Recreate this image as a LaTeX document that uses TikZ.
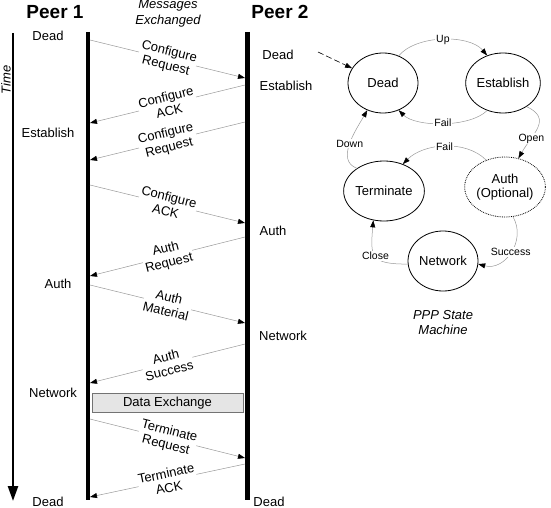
\documentclass[tikz,border=0pt]{standalone}
\usepackage{fontspec}
\setmainfont{Liberation Sans}
\usetikzlibrary{arrows.meta,shapes.geometric}

\begin{document}
\begin{tikzpicture}[x=1pt, y=1pt,
    %Option for nice arrows
    >={Triangle[length=7pt, width=5pt, color=black]},
    every node/.style={font=\fontsize{13}{14.5}\selectfont},
    lifeline/.style={line width=4.5pt},
    message/.style={draw=msggray, line width=0.5pt, ->},
    msglabel/.style={midway, sloped, fill=white, inner sep=1pt, align=center},
    state/.style={ellipse, draw, line width=0.8pt, minimum width=70pt,
        minimum height=60pt, inner sep=0pt, align=center},
    transition/.style={draw=msggray, line width=0.5pt, ->},
    translabel/.style={midway, fill=white, inner sep=1pt,
        font=\fontsize{10.5}{12}\selectfont},
]
    % Colors
    \colorlet{msggray}{black!40}
    \colorlet{boxgray}{black!10}

    % Frame
    \useasboundingbox (0,0) rectangle (551,-508);

    % Headings
    \node[font=\fontsize{19}{20}\selectfont\bfseries] (peer1) at (55,-12) {Peer 1};
    \node[font=\fontsize{19}{20}\selectfont\bfseries] (peer2) at (280,-12) {Peer 2};
    \node[font=\fontsize{13}{16}\selectfont\itshape, align=center] (exchanged)
        at (168,-13) {Messages\\Exchanged};

    % Time axis
    \draw[line width=2.5pt, -{Triangle[length=15pt, width=10pt]}] (13,-33) -- (13,-501);
    \node[rotate=90, font=\fontsize{13}{14}\selectfont\itshape] (time) at (6,-80) {Time};

    % Lifelines of both peers
    \coordinate (p1top) at (88,-32);
    \coordinate (p1bot) at (88,-500);
    \coordinate (p2top) at (247.5,-32);
    \coordinate (p2bot) at (247.5,-500);
    \draw[lifeline] (p1top) -- (p1bot);
    \draw[lifeline] (p2top) -- (p2bot);

    % States seen by peer 1
    \node (l1) at (48,-36)  {Dead};
    \node (l2) at (48,-133) {Establish};
    \node (l3) at (58,-284) {Auth};
    \node (l4) at (53,-393) {Network};
    \node (l5) at (48,-502) {Dead};

    % States seen by peer 2
    \node (r1) at (278,-55)  {Dead};
    \node (r2) at (286,-86)  {Establish};
    \node (r3) at (273,-231) {Auth};
    \node (r4) at (283,-336) {Network};
    \node (r5) at (269,-502) {Dead};

    % Messages between the peers
    \foreach \xa/\ya/\xb/\yb/\txt [count=\i] in {
        90/40/245/78/{Configure\\Request},
        245/85/90/123/{Configure\\ACK},
        245/122/90/160/{Configure\\Request},
        90/185/245/223/{Configure\\ACK},
        245/237/90/276/{Auth\\Request},
        90/285/245/323/{Auth\\Material},
        245/344/90/383/{Auth\\Success},
        90/419/245/458/{Terminate\\Request},
        245/464/90/497/{Terminate\\ACK}}
    {
        \coordinate (m\i a) at (\xa,-\ya);
        \coordinate (m\i b) at (\xb,-\yb);
        \draw[message] (m\i a) -- (m\i b) node[msglabel] {\txt};
    }

    % Data exchange
    \node[draw=black!55, fill=boxgray, minimum width=151pt, minimum height=19pt,
        inner sep=0pt] (data) at (167.5,-403) {Data Exchange};

    % PPP state machine
    \node[state] (dead)      at (383,-83)  {Dead};
    \node[state] (establish) at (503,-83)  {Establish};
    \node[state] (terminate) at (384,-191) {Terminate};
    \node[state, densely dotted] (auth) at (505,-187) {Auth\\(Optional)};
    \node[state] (network)   at (443,-261) {Network};

    \coordinate (init) at (318,-52);
    \draw[->, line width=0.6pt, dash pattern=on 6pt off 3pt] (init) -- (dead);

    \draw[transition] (dead.60) to[out=50, in=130, looseness=0.8]
        node[translabel] {Up} (establish.120);
    \draw[transition] (establish.-120) to[out=-135, in=-45, looseness=0.7]
        node[translabel] {Fail} (dead.-60);
    \draw[transition] (establish.-45) to[out=-25, in=60, looseness=1.4]
        node[translabel, pos=0.7] {Open} (auth.65);
    \draw[transition] (auth.125) to[out=135, in=45, looseness=0.9]
        node[translabel] {Fail} (terminate.55);
    \draw[transition] (terminate.140) to[out=160, in=-120]
        node[translabel] {Down} (dead.-120);
    \draw[transition] (auth.-75) to[out=-60, in=-15, looseness=1.2]
        node[translabel] {Success} (network.-5);
    \draw[transition] (network.185) to[out=180, in=-95, looseness=1.7]
        node[translabel] {Close} (terminate.-110);

    \node[font=\fontsize{13}{15}\selectfont\itshape, align=center] (machine)
        at (443,-323) {PPP State\\Machine};

\end{tikzpicture}
\end{document}
